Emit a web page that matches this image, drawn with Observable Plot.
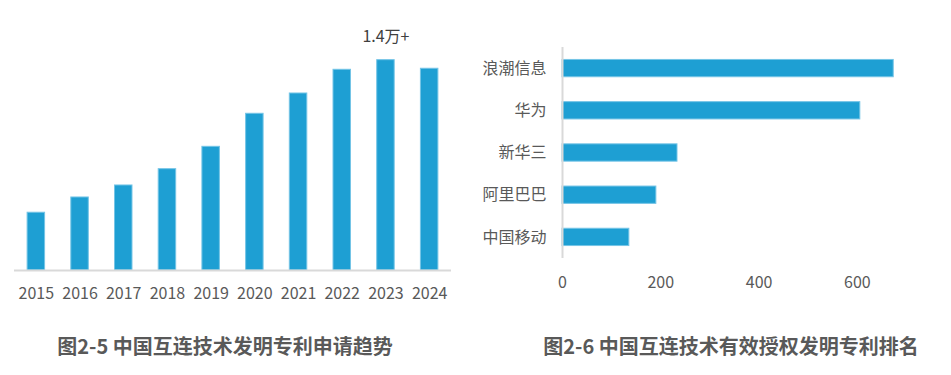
<!DOCTYPE html>
<html>
<head>
<meta charset="utf-8">
<script src="https://cdn.jsdelivr.net/npm/d3@7"></script>
<script src="https://cdn.jsdelivr.net/npm/@observablehq/plot@0.6"></script>
<style>
  html, body { margin: 0; padding: 0; background: #fff; }
  #wrap { position: relative; width: 951px; height: 375px; font-family: "Noto Sans CJK SC", "Noto Sans", sans-serif; }
  .panel { position: absolute; top: 0; }
  .cap { position: absolute; font-weight: bold; font-size: 20px; color: #595959; white-space: nowrap; transform: translate(-50%, -50%); line-height: 1; }
</style>
</head>
<body>
<div id="wrap">
  <div class="panel" id="left" style="left:0px"></div>
  <div class="panel" id="right" style="left:460px"></div>
  <div class="cap" id="cap1" style="left:225px; top:346px"></div>
  <div class="cap" id="cap2" style="left:731px; top:346px"></div>
</div>
<script>
// Left chart: applications by year
const years = ["2015","2016","2017","2018","2019","2020","2021","2022","2023","2024"];
const applications = [3900, 4930, 5740, 6840, 8350, 10580, 11950, 13550, 14200, 13620];
const peakLabel = "1.4万+";
const peakYear = "2023";

// Right chart: granted invention patents ranking
const companies = ["浪潮信息","华为","新华三","阿里巴巴","中国移动"];
const granted = [674, 606, 234, 191, 136];
const xTicks = [0, 200, 400, 600];

const caption1 = "图2-5 中国互连技术发明专利申请趋势";
const caption2 = "图2-6 中国互连技术有效授权发明专利排名";

const barColor = "#1e9fd3";
const barEdge = "#74c4e6";
const textColor = "#595959";
const font = "'Noto Sans CJK SC', 'Noto Sans', sans-serif";

const yearData = years.map((y, i) => ({year: y, value: applications[i]}));
const compData = companies.map((c, i) => ({company: c, value: granted[i]}));

const left = Plot.plot({
  width: 470,
  height: 320,
  marginLeft: 14,
  marginRight: 19,
  marginTop: 33,
  marginBottom: 50,
  style: {fontFamily: font, fontSize: "16px", color: textColor, background: "transparent"},
  x: {domain: years, paddingInner: 0.6, paddingOuter: 0.3, round: false, label: null, tickSize: 0, tickPadding: 17},
  y: {domain: [0, 16000], axis: null},
  marks: [
    Plot.barY(yearData, {x: "year", y: "value", fill: barColor, stroke: barEdge, strokeWidth: 1}),
    Plot.ruleY([0], {stroke: "#d9d9d9", strokeWidth: 2}),
    Plot.text(yearData.filter(d => d.year === peakYear), {x: "year", y: "value", text: () => peakLabel, dy: -23, fill: "#404040", fontSize: 16})
  ]
});
document.getElementById("left").appendChild(left);

const right = Plot.plot({
  width: 491,
  height: 320,
  marginLeft: 102,
  marginRight: 45,
  marginTop: 47,
  marginBottom: 62,
  style: {fontFamily: font, fontSize: "16px", color: textColor, background: "transparent"},
  x: {domain: [0, 700], ticks: xTicks, label: null, tickSize: 0, tickPadding: 18},
  y: {domain: companies, paddingInner: 0.59, paddingOuter: 0.295, round: false, label: null, tickSize: 0, tickPadding: 16},
  marks: [
    Plot.barX(compData, {y: "company", x: "value", fill: barColor, stroke: barEdge, strokeWidth: 1}),
    Plot.ruleX([0], {stroke: "#d9d9d9", strokeWidth: 2})
  ]
});
document.getElementById("right").appendChild(right);

document.getElementById("cap1").textContent = caption1;
document.getElementById("cap2").textContent = caption2;
</script>
</body>
</html>
